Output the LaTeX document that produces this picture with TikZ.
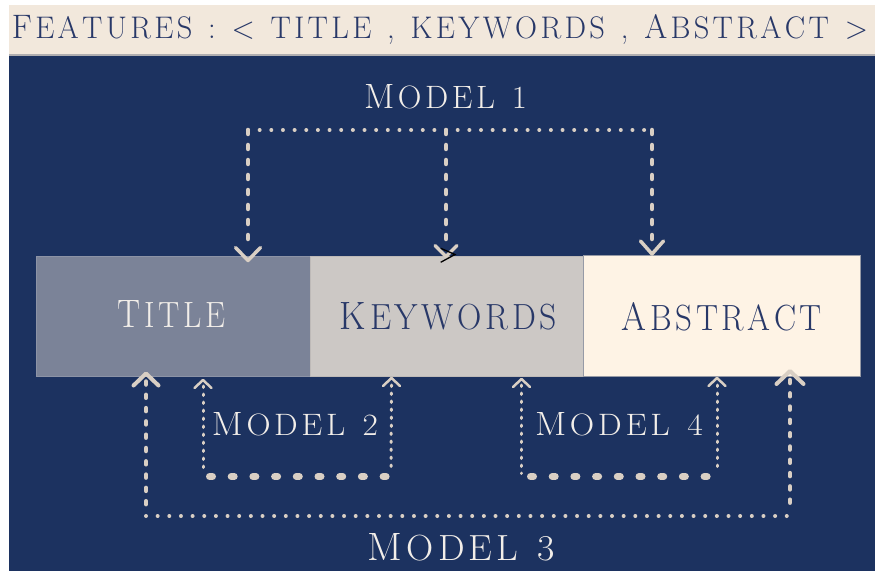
\documentclass[tikz,border=0pt]{standalone}
\usepackage{graphicx}
\usetikzlibrary{calc}

\definecolor{bgblue}{RGB}{28,50,96}
\definecolor{bannerclr}{RGB}{242,232,220}
\definecolor{rulegray}{RGB}{176,174,176}
\definecolor{titlefill}{RGB}{123,131,152}
\definecolor{titleedge}{RGB}{140,147,166}
\definecolor{keyfill}{RGB}{204,200,197}
\definecolor{keyedge}{RGB}{190,186,184}
\definecolor{absfill}{RGB}{254,243,229}
\definecolor{absedge}{RGB}{150,154,166}
\definecolor{lineclr}{RGB}{217,207,196}
\definecolor{navytext}{RGB}{40,56,104}
\definecolor{lighttext}{RGB}{242,238,233}

% letter-spaced small capitals: a kern is put before every glyph of the run
\newdimen\lsgap \lsgap=2pt
\let\endtrack\relax
\def\trackloop#1{\ifx#1\endtrack\else\kern\lsgap#1\expandafter\trackloop\fi}
\newcommand\bigcapfont{\fontsize{20}{20}\selectfont}
\newcommand\smallcapfont{\fontsize{18.4}{18.4}\selectfont}
% #1 width, #2 cap height, #3 capital letter, #4 small-capital part
\newcommand\capsline[4]{\resizebox{#1}{#2}{{\bigcapfont #3}{\smallcapfont\trackloop#4\endtrack}}}

\begin{document}
\begin{tikzpicture}[x=1pt,y=-1pt,
  conn/.style={draw=lineclr, line cap=round},
  hdots/.style={conn, line width=4pt, dash pattern=on 0pt off 11.65pt},
  vdash/.style={conn, line width=4.5pt, dash pattern=on 4pt off 11pt},
  vdashb/.style={conn, line width=4.5pt, dash pattern=on 3pt off 10.3pt},
  vdots/.style={conn, line width=3pt, dash pattern=on 1.5pt off 6.5pt},
  hthick/.style={conn, line width=7pt, dash pattern=on 3pt off 18.7pt},
  chev/.style={draw=lineclr, line cap=round, line join=round},
  pics/chevron/.style args={#1/#2}{code={\draw[chev] (-#1,#2) -- (0,0) -- (#1,#2);}},
  box/.style={rectangle, inner sep=0pt, outer sep=0pt, line width=1pt},
  label/.style={anchor=base, inner sep=0pt, outer sep=0pt}
]
\useasboundingbox (0,0) rectangle (875,572);
\fill[white] (0,0) rectangle (875,572);

% banner and background
\fill[bannerclr] (9,5) rectangle (875,54);
\fill[bgblue] (9,55.5) rectangle (875,571);
\draw[rulegray, line width=1.5pt] (9,54.8) -- (875,54.8);
\node[label, text=navytext] (heading) at (440,39)
  {\resizebox{856pt}{24pt}{{\bigcapfont F}{\smallcapfont\trackloop EATURES~:~<~TITLE~,~KEYWORDS~,~\endtrack}\kern\lsgap{\bigcapfont A}{\smallcapfont\trackloop BSTRACT~>\endtrack}}};

% the three feature boxes
\node[box, fill=titlefill, draw=titleedge, minimum width=274pt, minimum height=120pt] (title) at (173,316) {};
\node[box, fill=keyfill, draw=keyedge, minimum width=273pt, minimum height=120pt] (keywords) at (446.5,316) {};
\node[box, fill=absfill, draw=absedge, minimum width=277pt, minimum height=121pt] (abstract) at (721.5,315.5) {};
\node[label, text=lighttext] (titletext) at (171.5,327) {\capsline{107pt}{27pt}{T}{ITLE}};
\node[label, text=navytext] (keytext) at (448.5,329) {\capsline{217pt}{27pt}{K}{EYWORDS}};
\node[label, text=navytext] (abstext) at (722,330) {\capsline{200pt}{28pt}{A}{BSTRACT}};

% model labels
\node[label, text=lighttext] (model1) at (445.5,109) {\capsline{163pt}{24pt}{M}{ODEL~1}};
\node[label, text=lighttext] (model2) at (295,435) {\capsline{166pt}{23pt}{M}{ODEL~2}};
\node[label, text=lighttext] (model4) at (619,435) {\capsline{168pt}{23pt}{M}{ODEL~4}};
\node[label, text=lighttext] (model3) at (461.5,560) {\capsline{187pt}{27pt}{M}{ODEL~3}};

% Model 1: title, keywords and abstract from above
\coordinate (m1l) at (248,130);
\coordinate (m1m) at (446,130);
\coordinate (m1r) at (652,130);
\coordinate (m1lt) at (248,260.5);
\coordinate (m1mt) at (446,256.5);
\coordinate (m1rt) at (652,254);
\draw[hdots] (m1l) -- (m1r);
\draw[vdash] (m1l) -- ($(m1lt)+(0,-11)$);
\draw[vdash] (m1m) -- ($(m1mt)+(0,-10)$);
\draw[vdash] (m1r) -- ($(m1rt)+(0,-11)$);
\pic[line width=3.5pt] at (m1lt) {chevron=12.5/-13};
\pic[line width=3.5pt] at (m1mt) {chevron=11/-11};
\pic[line width=3.5pt] at (m1rt) {chevron=11.5/-13};
\draw[black, line width=1.3pt] (440.7,248.3) -- (455,254.5) -- (440.7,262.3);

% Model 3: title and abstract from below
\coordinate (m3l) at (146,516);
\coordinate (m3r) at (790,516);
\coordinate (m3lt) at (146,373.5);
\coordinate (m3rt) at (790,371);
\draw[hdots] (m3l) -- (m3r);
\draw[vdashb] ($(m3lt)+(0,8)$) -- ($(m3l)+(0,-4)$);
\draw[vdashb] ($(m3rt)+(0,9)$) -- ($(m3r)+(0,-6)$);
\pic[line width=4pt] at (m3lt) {chevron=12.5/12};
\pic[line width=4pt] at (m3rt) {chevron=13.5/13};

% Model 2: title and keywords
\coordinate (m2l) at (203,476.5);
\coordinate (m2r) at (391,476.5);
\coordinate (m2lt) at (203,380);
\coordinate (m2rt) at (391.5,378);
\draw[vdots] ($(m2lt)+(0,6)$) -- ($(m2l)+(0,-3)$);
\draw[vdots] ($(m2rt)+(0,7)$) -- ($(m2r)+(0,-6)$);
\draw[hthick] ($(m2l)+(6.5,0)$) -- ($(m2r)+(-3,0)$);
\pic[line width=2.5pt] at (m2lt) {chevron=8.5/8};
\pic[line width=2.5pt] at (m2rt) {chevron=8.5/8};

% Model 4: keywords and abstract
\coordinate (m4l) at (521.5,476.5);
\coordinate (m4r) at (717,476.5);
\coordinate (m4lt) at (521.5,379);
\coordinate (m4rt) at (717,378);
\draw[vdots] ($(m4lt)+(0,6)$) -- ($(m4l)+(0,-3)$);
\draw[vdots] ($(m4rt)+(0,7)$) -- ($(m4r)+(0,-6)$);
\draw[hthick] ($(m4l)+(9,0)$) -- ($(m4r)+(-3,0)$);
\pic[line width=2.5pt] at (m4lt) {chevron=8.5/8};
\pic[line width=2.5pt] at (m4rt) {chevron=8.5/8};
\end{tikzpicture}
\end{document}
